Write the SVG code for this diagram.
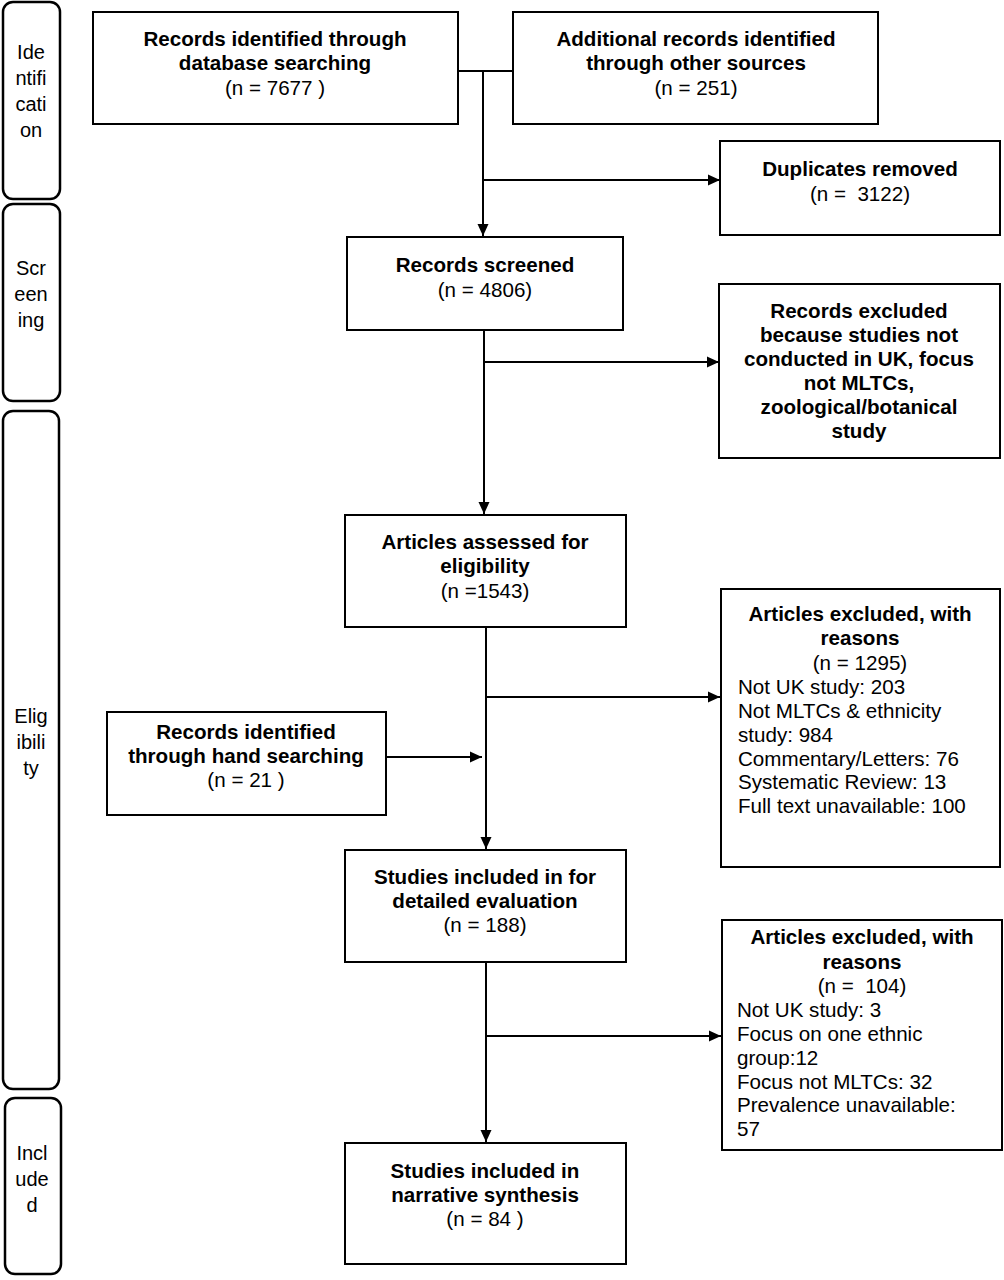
<svg xmlns="http://www.w3.org/2000/svg" width="1004" height="1280" viewBox="0 0 1004 1280">
<style>
.bg{fill:#fff}
.box{fill:#fff;stroke:#000;stroke-width:2}
.side{fill:#fff;stroke:#000;stroke-width:2.5}
.c{fill:none;stroke:#000;stroke-width:2}
text{font-family:"Liberation Sans",Arial,sans-serif;font-size:20.6px;fill:#000;white-space:pre}
.b{font-weight:bold}
.m{text-anchor:middle}
.s{font-size:20px;text-anchor:middle}
</style>
<defs>
<marker id="ah" markerWidth="12" markerHeight="12" refX="12" refY="6" orient="auto" markerUnits="userSpaceOnUse">
<path d="M0,0.5 L12,6 L0,11.5 Z" fill="#000"/>
</marker>
</defs>
<rect class="bg" x="0" y="0" width="1004" height="1280"/>

<g id="stage-identification">
<rect class="side" x="3" y="2" width="57" height="197" rx="10"/>
<text class="s" x="31" y="59">Ide</text>
<text class="s" x="31" y="85">ntifi</text>
<text class="s" x="31" y="111">cati</text>
<text class="s" x="31" y="137">on</text>
</g>
<g id="stage-screening">
<rect class="side" x="3" y="204" width="57" height="197" rx="10"/>
<text class="s" x="31" y="275">Scr</text>
<text class="s" x="31" y="301">een</text>
<text class="s" x="31" y="327">ing</text>
</g>
<g id="stage-eligibility">
<rect class="side" x="3" y="411" width="56" height="678" rx="10"/>
<text class="s" x="31" y="723">Elig</text>
<text class="s" x="31" y="749">ibili</text>
<text class="s" x="31" y="775">ty</text>
</g>
<g id="stage-included">
<rect class="side" x="5" y="1098" width="56" height="176" rx="10"/>
<text class="s" x="32" y="1160">Incl</text>
<text class="s" x="32" y="1186">ude</text>
<text class="s" x="32" y="1212">d</text>
</g>

<g id="connectors">
<path class="c" d="M458,71 H513"/>
<path class="c" d="M483,71 V236" marker-end="url(#ah)"/>
<path class="c" d="M484,180 H720" marker-end="url(#ah)"/>
<path class="c" d="M484,328 V514" marker-end="url(#ah)"/>
<path class="c" d="M485,362 H719" marker-end="url(#ah)"/>
<path class="c" d="M486,627 V849" marker-end="url(#ah)"/>
<path class="c" d="M486,697 H720" marker-end="url(#ah)"/>
<path class="c" d="M386,757 H482" marker-end="url(#ah)"/>
<path class="c" d="M486,962 V1142" marker-end="url(#ah)"/>
<path class="c" d="M487,1036 H721" marker-end="url(#ah)"/>
</g>

<g id="records-database">
<rect class="box" x="93" y="12" width="365" height="112"/>
<text class="m b" x="275" y="46">Records identified through</text>
<text class="m b" x="275" y="70">database searching</text>
<text class="m" x="275" y="95">(n = 7677 )</text>
</g>
<g id="records-other">
<rect class="box" x="513" y="12" width="365" height="112"/>
<text class="m b" x="696" y="46">Additional records identified</text>
<text class="m b" x="696" y="70">through other sources</text>
<text class="m" x="696" y="95">(n = 251)</text>
</g>
<g id="duplicates">
<rect class="box" x="720" y="141" width="280" height="94"/>
<text class="m b" x="860" y="176">Duplicates removed</text>
<text class="m" x="860" y="201">(n =  3122)</text>
</g>
<g id="screened">
<rect class="box" x="347" y="237" width="276" height="93"/>
<text class="m b" x="485" y="272">Records screened</text>
<text class="m" x="485" y="297">(n = 4806)</text>
</g>
<g id="records-excluded">
<rect class="box" x="719" y="284" width="281" height="174"/>
<text class="m b" x="859" y="318">Records excluded</text>
<text class="m b" x="859" y="342">because studies not</text>
<text class="m b" x="859" y="366">conducted in UK, focus</text>
<text class="m b" x="859" y="390">not MLTCs,</text>
<text class="m b" x="859" y="414">zoological/botanical</text>
<text class="m b" x="859" y="438">study</text>
</g>
<g id="assessed">
<rect class="box" x="345" y="515" width="281" height="112"/>
<text class="m b" x="485" y="549">Articles assessed for</text>
<text class="m b" x="485" y="573">eligibility</text>
<text class="m" x="485" y="598">(n =1543)</text>
</g>
<g id="excluded-1">
<rect class="box" x="721" y="589" width="279" height="278"/>
<text class="m b" x="860" y="621">Articles excluded, with</text>
<text class="m b" x="860" y="645">reasons</text>
<text class="m" x="860" y="670">(n = 1295)</text>
<text x="738" y="694">Not UK study: 203</text>
<text x="738" y="718">Not MLTCs &amp; ethnicity</text>
<text x="738" y="742">study: 984</text>
<text x="738" y="766">Commentary/Letters: 76</text>
<text x="738" y="789">Systematic Review: 13</text>
<text x="738" y="813">Full text unavailable: 100</text>
</g>
<g id="hand-search">
<rect class="box" x="107" y="712" width="279" height="103"/>
<text class="m b" x="246" y="739">Records identified</text>
<text class="m b" x="246" y="763">through hand searching</text>
<text class="m" x="246" y="787">(n = 21 )</text>
</g>
<g id="detailed">
<rect class="box" x="345" y="850" width="281" height="112"/>
<text class="m b" x="485" y="884">Studies included in for</text>
<text class="m b" x="485" y="908">detailed evaluation</text>
<text class="m" x="485" y="932">(n = 188)</text>
</g>
<g id="excluded-2">
<rect class="box" x="722" y="920" width="280" height="230"/>
<text class="m b" x="862" y="944">Articles excluded, with</text>
<text class="m b" x="862" y="969">reasons</text>
<text class="m" x="862" y="993">(n =  104)</text>
<text x="737" y="1017">Not UK study: 3</text>
<text x="737" y="1041">Focus on one ethnic</text>
<text x="737" y="1065">group:12</text>
<text x="737" y="1089">Focus not MLTCs: 32</text>
<text x="737" y="1112">Prevalence unavailable:</text>
<text x="737" y="1136">57</text>
</g>
<g id="narrative">
<rect class="box" x="345" y="1143" width="281" height="121"/>
<text class="m b" x="485" y="1178">Studies included in</text>
<text class="m b" x="485" y="1202">narrative synthesis</text>
<text class="m" x="485" y="1226">(n = 84 )</text>
</g>
</svg>
